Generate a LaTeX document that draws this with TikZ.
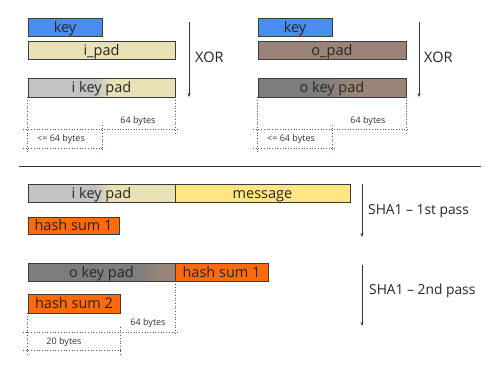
\documentclass[tikz,border=0pt]{standalone}
\usepackage{fontspec}
\setmainfont{Open Sans}
\usetikzlibrary{arrows.meta}
\definecolor{keyblue}{HTML}{4A8CF0}
\definecolor{ipadc}{HTML}{E8E1B3}
\definecolor{ikgray}{HTML}{C3C3C3}
\definecolor{opadc}{HTML}{9A8478}
\definecolor{okgray}{HTML}{7D7D7D}
\definecolor{msgc}{HTML}{FFE680}
\definecolor{hashc}{HTML}{FF6A0A}
\definecolor{edge}{HTML}{3C3C3C}
\definecolor{dimc}{HTML}{555555}
\tikzset{
  box/.style={draw=edge, line width=0.9pt, inner sep=0pt, minimum height=18pt, text height=12pt, text depth=2pt, font=\fontsize{14.5}{14.5}\selectfont, text=black!85},
  dimline/.style={dimc, line width=0.7pt, dotted},
  dimlabel/.style={font=\fontsize{9}{9}\selectfont, text=black!80, inner sep=0pt},
  flow/.style={-{Stealth[length=4pt,width=3pt]}, line width=0.7pt, draw=black!80},
  flowlabel/.style={font=\fontsize{13.8}{14}\selectfont, anchor=west, inner sep=0pt, text=black!85},
}
\begin{document}
\begin{tikzpicture}[x=1pt,y=-1pt]
\useasboundingbox[fill=white] (0,0) rectangle (500,375);

% ---------- top left ----------
\node[box, fill=keyblue, minimum width=74pt] (key1) at (65,27) {key};
\node[box, fill=ipadc, minimum width=147pt] (ipad) at (101.5,50.5) {i\_pad};
\fill[ikgray] (28,78) rectangle (96,97);
\shade[left color=ikgray, right color=ipadc] (96,78) rectangle (110,97);
\fill[ipadc] (110,78) rectangle (175,97);
\node[box, minimum width=147pt, minimum height=19pt] (ikp1) at (101.5,87.5) {i key pad};
\coordinate (x1s) at (189,22);
\coordinate (x1e) at (189,97);
\draw[flow] (x1s) -- (x1e);
\node[flowlabel, font=\fontsize{14.5}{14.5}\selectfont] (xor1) at (195,57) {XOR};
\draw[dimline] (ikp1.south west) -- ++(0,55);
\draw[dimline] (ikp1.south east) -- ++(0,36);
\draw[dimline] (23,129) -- (177,129);
\draw[dimline] (102,125) -- (102,152);
\draw[dimline] (23,148) -- (104,148);
\node[dimlabel] (d64a) at (138,121) {64 bytes};
\node[dimlabel] (d64b) at (61,139) {<= 64 bytes};

% ---------- top right ----------
\node[box, fill=keyblue, minimum width=74pt] (key2) at (295,27) {key};
\node[box, fill=opadc, minimum width=148pt] (opad) at (332,50.5) {o\_pad};
\fill[okgray] (258,78) rectangle (318,97);
\shade[left color=okgray, right color=opadc] (318,78) rectangle (350,97);
\fill[opadc] (350,78) rectangle (406,97);
\node[box, minimum width=148pt, minimum height=19pt] (okp1) at (332,87.5) {o key pad};
\coordinate (x2s) at (419,22);
\coordinate (x2e) at (419,97);
\draw[flow] (x2s) -- (x2e);
\node[flowlabel, font=\fontsize{14.5}{14.5}\selectfont] (xor2) at (424,57) {XOR};
\draw[dimline] (okp1.south west) -- ++(0,55);
\draw[dimline] (okp1.south east) -- ++(0,36);
\draw[dimline] (253,129) -- (408,129);
\draw[dimline] (332,125) -- (332,152);
\draw[dimline] (253,148) -- (335,148);
\node[dimlabel] (d64c) at (368,121) {64 bytes};
\node[dimlabel] (d64d) at (291,139) {<= 64 bytes};

% ---------- separator ----------
\coordinate (sepl) at (19,166);
\coordinate (sepr) at (481,166);
\draw[line width=1pt, black!80] (sepl) -- (sepr);

% ---------- first pass ----------
\fill[ikgray] (28,184) rectangle (96,202);
\shade[left color=ikgray, right color=ipadc] (96,184) rectangle (110,202);
\fill[ipadc] (110,184) rectangle (175,202);
\node[box, minimum width=147pt] (ikp2) at (101.5,193) {i key pad};
\node[box, fill=msgc, minimum width=175pt] (msg) at (262.5,193) {message};
\node[box, fill=hashc, minimum width=91pt, minimum height=17pt] (hs1) at (73.5,225.5) {hash sum 1};
\coordinate (s1s) at (362,184);
\coordinate (s1e) at (362,237);
\draw[flow] (s1s) -- (s1e);
\node[flowlabel] (sha1) at (368,211) {SHA1 – 1st pass};

% ---------- second pass ----------
\fill[okgray] (28,263) rectangle (130,281);
\shade[left color=okgray, right color=opadc] (130,263) rectangle (166,281);
\fill[opadc] (166,263) rectangle (175,281);
\node[box, minimum width=147pt] (okp2) at (101.5,272) {o key pad};
\node[box, fill=hashc, minimum width=93pt] (hs1b) at (221.5,272) {hash sum 1};
\node[box, fill=hashc, minimum width=92pt, minimum height=19pt] (hs2) at (74,303.5) {hash sum 2};
\coordinate (s2s) at (362,265);
\coordinate (s2e) at (362,326);
\draw[flow] (s2s) -- (s2e);
\node[flowlabel] (sha2) at (369,291) {SHA1 – 2nd pass};
\draw[dimline] (hs2.south west) -- ++(0,42);
\draw[dimline] (okp2.south east) -- ++(0,54);
\draw[dimline] (23,332) -- (178,332);
\draw[dimline] (120,327) -- (120,355);
\draw[dimline] (23,350) -- (122,350);
\node[dimlabel] (d64e) at (148,323) {64 bytes};
\node[dimlabel] (d20) at (64,342) {20 bytes};
\end{tikzpicture}
\end{document}
